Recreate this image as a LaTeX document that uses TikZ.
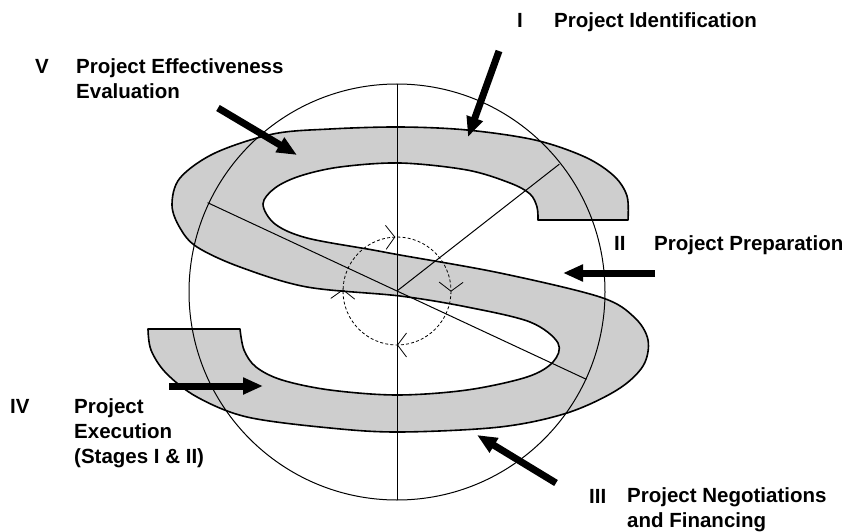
\documentclass[tikz,border=0pt]{standalone}
\usepackage{fontspec}
\setmainfont{Liberation Sans}
\usepackage{tikz}
\usetikzlibrary{arrows.meta, decorations.markings}
\definecolor{bandgray}{RGB}{206, 206, 206}

\begin{document}
\begin{tikzpicture}[x=1pt, y=-1pt,
    stagenum/.style={anchor=base west, inner sep=0pt, font=\fontsize{20.5}{25}\selectfont\bfseries},
    stagetext/.style={anchor=base west, inner sep=0pt, align=left, font=\fontsize{20.5}{25}\selectfont\bfseries},
    bigarrow/.style={line width=7pt, -{Triangle[length=20pt, width=16pt]}},
    guide/.style={line width=1pt},
    cycleflow/.style={line width=0.8pt, dash pattern=on 3pt off 2.2pt, postaction={decorate},
        decoration={markings,
            mark=at position 0.002 with {\arrow{Straight Barb[length=9pt, width=24pt]}},
            mark=at position 0.25 with {\arrow{Straight Barb[length=9pt, width=24pt]}},
            mark=at position 0.505 with {\arrow{Straight Barb[length=9pt, width=24pt]}},
            mark=at position 0.745 with {\arrow{Straight Barb[length=9pt, width=24pt]}}}}]
    \useasboundingbox (0,0) rectangle (864,532);

    % The S band
    \draw[fill=bandgray, line width=1.6pt, line join=round]
        plot[smooth, tension=0.55] coordinates {(628,220) (627,196) (614,176) (585,157) (535,140)
            (467,130) (400,127) (330,129) (273,134) (215,153) (180,178) (172,205) (180,228)
            (197,247) (240,267) (307,287) (400,296) (467,307) (530,322) (558,343) (553,362)
            (527,377) (467,390) (397,395) (330,390) (282,380) (256,367) (244,350) (240,329)}
        -- plot[smooth, tension=0.55] coordinates {(148,329) (151,350) (166,373) (197,397)
            (247,417) (330,428) (400,432) (500,427) (567,413) (617,390) (643,366) (648,340)
            (634,317) (600,297) (500,273) (400,255) (373,250) (307,238) (275,224) (263,204)
            (275,188) (300,176) (340,167) (400,163) (467,170) (510,183) (530,194) (537,207)
            (538,220)}
        -- cycle;

    % Circle and guide lines
    \coordinate (hub) at (397,291);
    \draw[guide] (397,292) circle (208);
    \draw[guide] (397,84) -- (397,500);
    \draw[guide] ([shift={(hub)}]205:209) -- ([shift={(hub)}]25:209);
    \draw[guide] (hub) -- ([shift={(hub)}]-38:206);

    % Inner cycle
    \draw[cycleflow] (hub) circle (54);

    % Arrows
    \coordinate (tailI) at (499,51);    \coordinate (tipI) at (468,137);
    \coordinate (tailII) at (655,273);  \coordinate (tipII) at (563,273);
    \coordinate (tailIII) at (556,483); \coordinate (tipIII) at (477,435);
    \coordinate (tailIV) at (169,386);  \coordinate (tipIV) at (263,386);
    \coordinate (tailV) at (218,108);   \coordinate (tipV) at (297,155);
    \foreach \s in {I, II, III, IV, V}
        \draw[bigarrow] (tail\s) -- (tip\s);

    % Stage labels (multi-line ones sit on their last baseline)
    \node[stagenum] (numI) at (517,28) {I};
    \node[stagetext] (txtI) at (554,28) {Project Identification};
    \node[stagenum] (numII) at (614,250) {II};
    \node[stagetext] (txtII) at (654,250) {Project Preparation};
    \node[stagenum] (numIII) at (589,503) {III};
    \node[stagetext] (txtIII) at (627,527) {Project Negotiations\\and Financing};
    \node[stagenum] (numIV) at (10,413) {IV};
    \node[stagetext] (txtIV) at (74,463) {Project\\Execution\\(Stages I \& II)};
    \node[stagenum] (numV) at (35,74) {V};
    \node[stagetext] (txtV) at (76,99) {Project Effectiveness\\Evaluation};
\end{tikzpicture}
\end{document}
